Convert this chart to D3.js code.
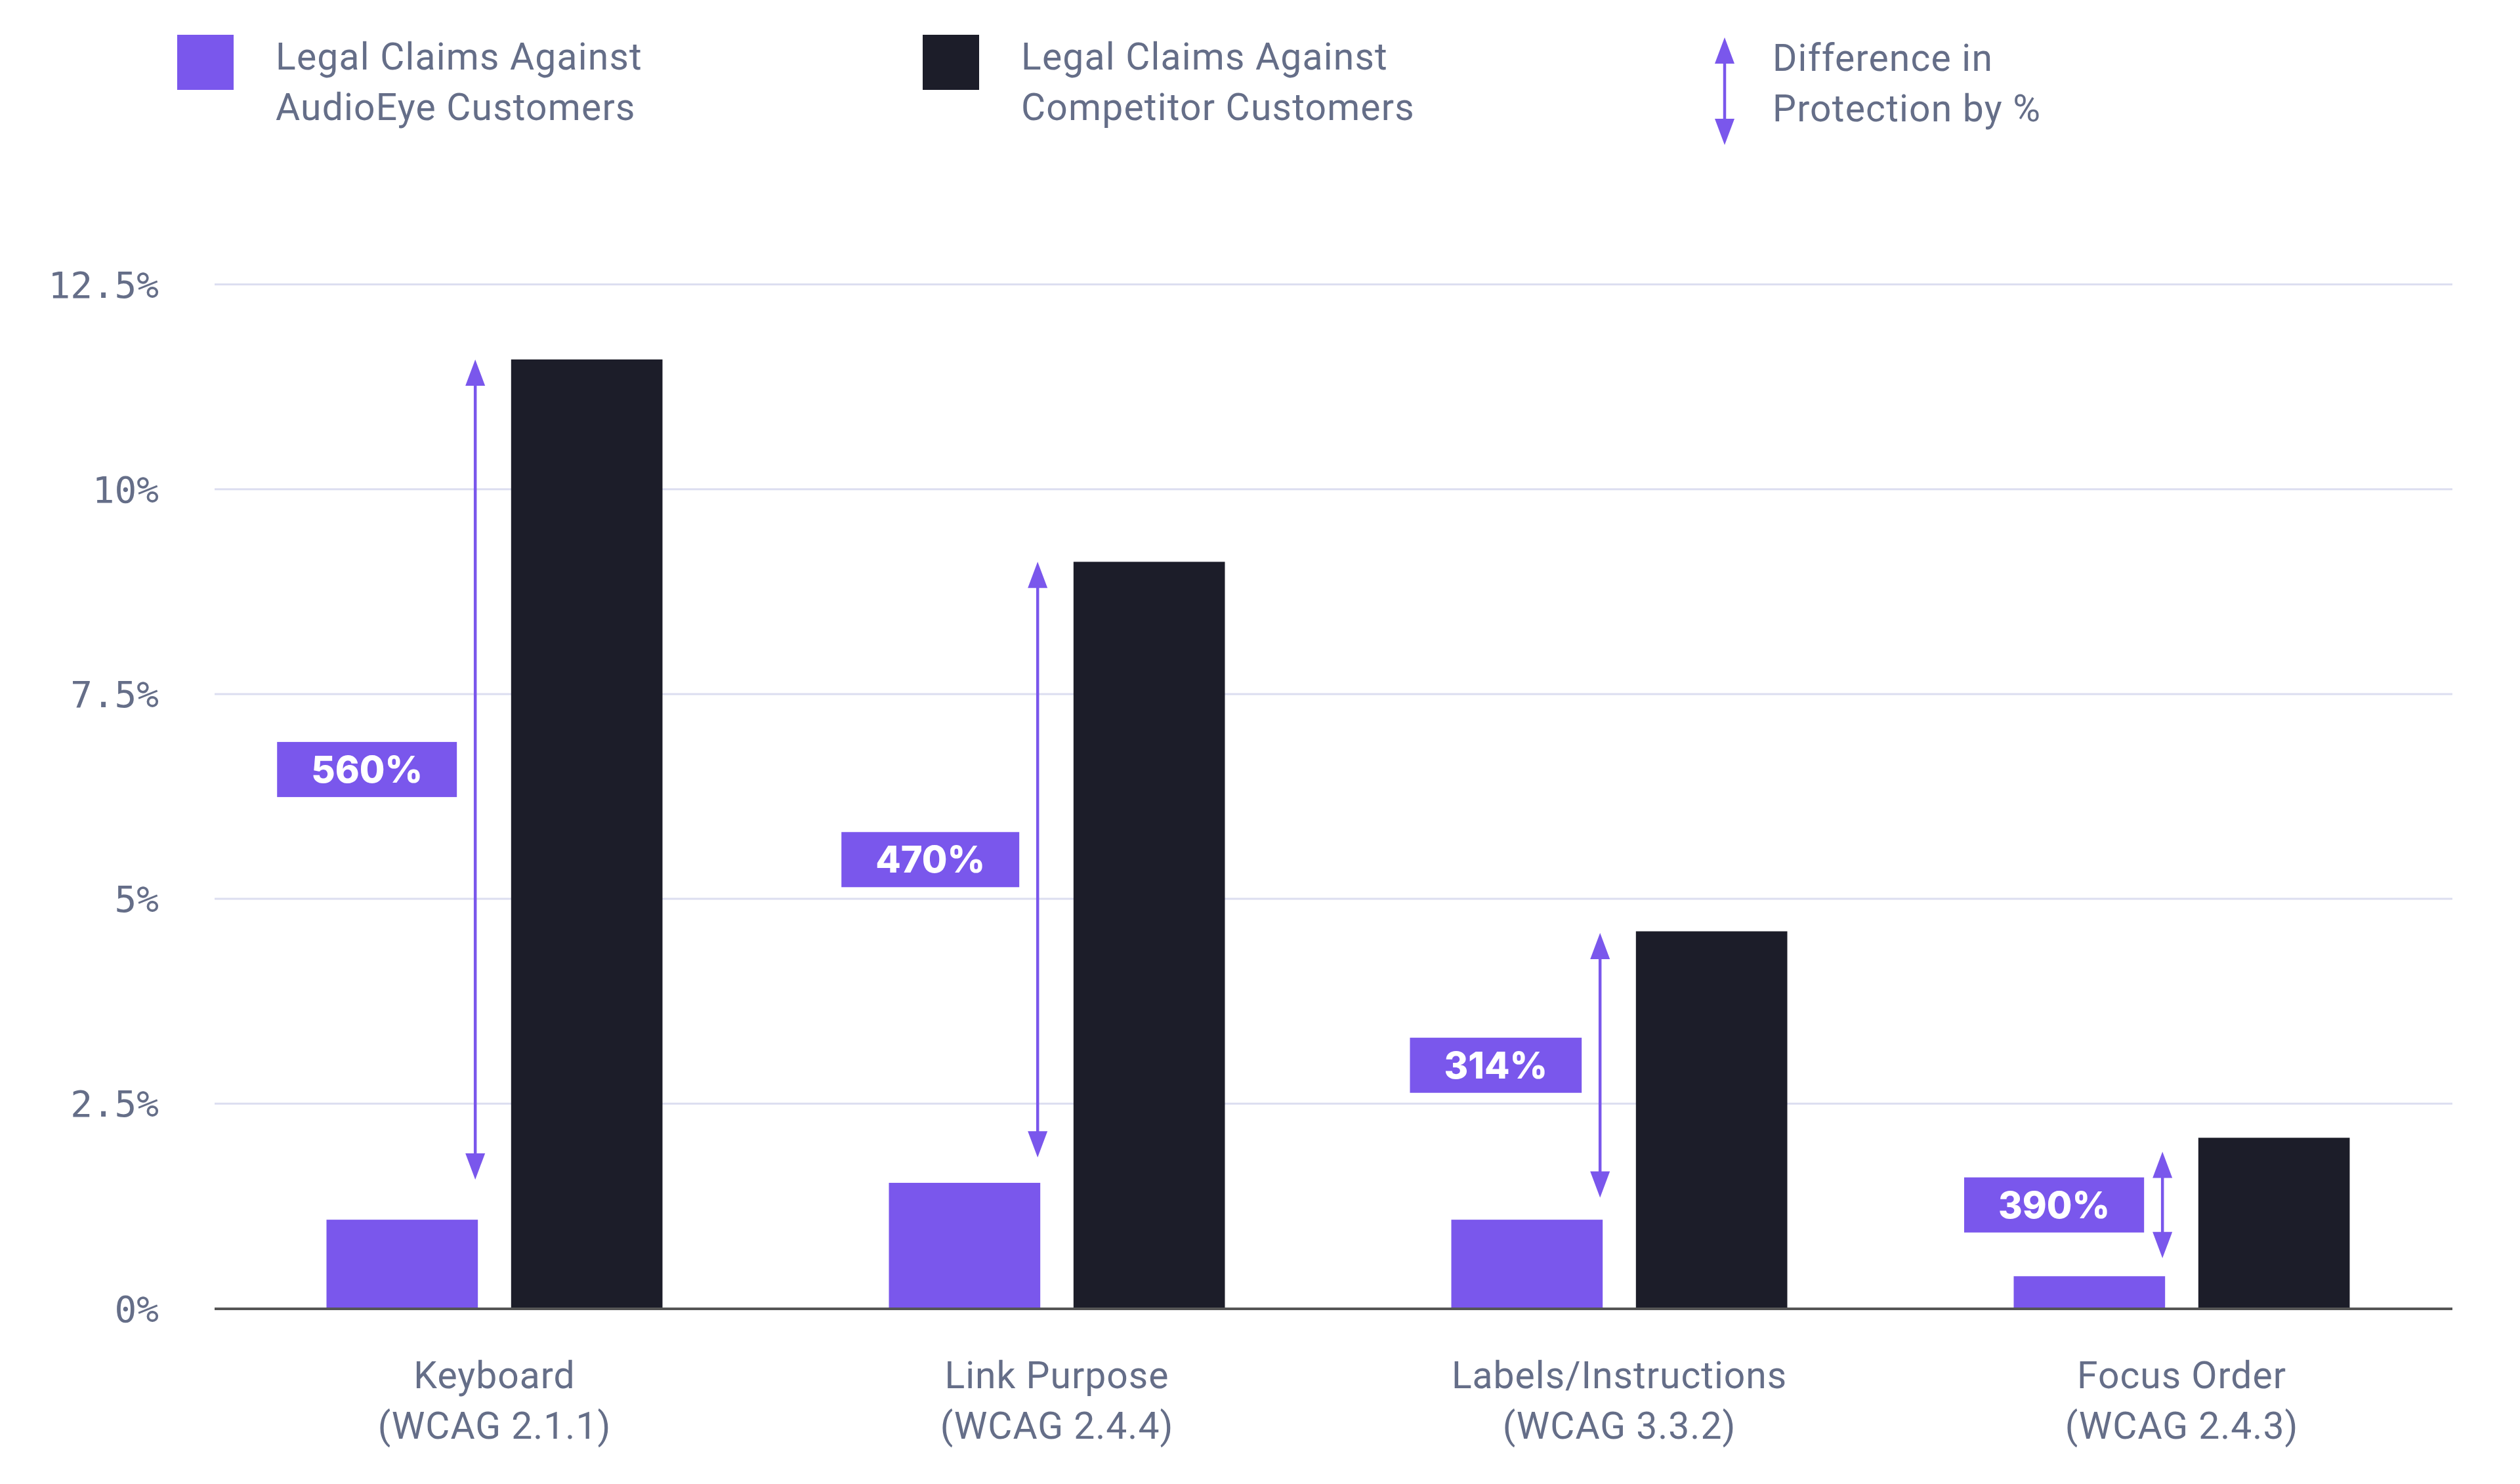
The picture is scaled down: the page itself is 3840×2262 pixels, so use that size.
<!DOCTYPE html>
<html>
<head>
<meta charset="utf-8">
<title>Legal claims chart</title>
<script src="https://cdn.jsdelivr.net/npm/d3@7"></script>
<style>
  * { margin: 0; padding: 0; }
  body { background: #fff; }
  svg { display: block; }
</style>
</head>
<body>
<div id="show"></div>
<script>
  // data (percent of claims)
  var categories = ["Keyboard", "Link Purpose", "Labels/Instructions", "Focus Order"];
  var subLabels = ["(WCAG 2.1.1)", "(WCAG 2.4.4)", "(WCAG 3.3.2)", "(WCAG 2.4.3)"];
  var audioEye = [1.08, 1.53, 1.08, 0.39];
  var competitor = [11.58, 9.11, 4.60, 2.08];
  var arrowTop = [11.58, 9.11, 4.58, 1.91];
  var arrowBottom = [1.57, 1.84, 1.35, 0.61];
  var diffLabels = ["560%", "470%", "314%", "390%"];
  var tickValues = [0, 2.5, 5, 7.5, 10, 12.5];
  var tickLabels = ["0%", "2.5%", "5%", "7.5%", "10%", "12.5%"];
  var seriesNames = ["audioEye", "competitor"];

  var W = 3840, H = 2262;
  var purple = "#7a57ec", dark = "#1c1d29", grey = "#656e88";
  var sans = "Roboto, 'Noto Sans', sans-serif";

  var svg = d3.select("#show").append("svg")
              .attr("width", W).attr("height", H);

  // plot box (window.top is reserved, so no bare "top")
  var plotL = 327, plotR = 3737, plotT = 433, plotB = 1994;

  var y = d3.scaleLinear().domain([0, 12.5]).range([plotB, plotT]);
  var x0 = d3.scaleBand().domain(categories).range([325, 3753]);
  var groupW = 512;
  var x1 = d3.scaleBand().domain(seriesNames).range([0, groupW]).paddingInner(0.18);

  // gridlines + y labels
  var yAxis = svg.append("g").attr("transform", "translate(" + plotL + ",0)")
     .call(d3.axisLeft(y).tickValues(tickValues)
            .tickFormat(function(d, i){ return tickLabels[i]; })
            .tickSize(-(plotR - plotL)).tickPadding(86));
  yAxis.select(".domain").remove();
  yAxis.selectAll(".tick line").attr("stroke", "#dcdef0").attr("stroke-width", 3);
  yAxis.selectAll(".tick text")
       .attr("fill", grey)
       .attr("font-family", "'DejaVu Sans Mono', 'Liberation Mono', monospace")
       .attr("font-size", 56)
       .attr("x", -(plotL - 242))
       .attr("dy", "0.36em");

  // bars
  var groups = svg.selectAll("g.grp").data(categories).enter().append("g")
     .attr("class", "grp")
     .attr("transform", function(d){
        return "translate(" + (x0(d) + x0.bandwidth() / 2 - groupW / 2) + ",0)";
     });

  groups.append("rect")
     .attr("x", x1("audioEye")).attr("width", x1.bandwidth())
     .attr("y", function(d, i){ return y(audioEye[i]); })
     .attr("height", function(d, i){ return y(0) - y(audioEye[i]); })
     .attr("fill", purple);

  groups.append("rect")
     .attr("x", x1("competitor")).attr("width", x1.bandwidth())
     .attr("y", function(d, i){ return y(competitor[i]); })
     .attr("height", function(d, i){ return y(0) - y(competitor[i]); })
     .attr("fill", dark);

  // difference arrows
  var headH = 40, headW = 30;
  function drawArrow(g, ax, yTop, yBot){
     g.append("line").attr("x1", ax).attr("x2", ax)
      .attr("y1", yTop + headH - 2).attr("y2", yBot - headH + 2)
      .attr("stroke", purple).attr("stroke-width", 4.5);
     g.append("path")
      .attr("d", "M" + ax + "," + yTop + "L" + (ax + headW / 2) + "," + (yTop + headH) +
                 "L" + (ax - headW / 2) + "," + (yTop + headH) + "Z")
      .attr("fill", purple);
     g.append("path")
      .attr("d", "M" + ax + "," + yBot + "L" + (ax + headW / 2) + "," + (yBot - headH) +
                 "L" + (ax - headW / 2) + "," + (yBot - headH) + "Z")
      .attr("fill", purple);
  }

  groups.each(function(d, i){
     var g = d3.select(this);
     var ax = x1("audioEye") + x1.bandwidth() - 4;
     var yt = y(arrowTop[i]), yb = y(arrowBottom[i]);
     drawArrow(g, ax, yt, yb);
     var mid = (yt + yb) / 2;
     var lab = g.append("g");
     var rect = lab.append("rect").attr("fill", purple);
     var t = lab.append("text").text(diffLabels[i])
        .attr("fill", "#fff")
        .attr("font-family", "Inter, 'Open Sans', sans-serif")
        .attr("font-weight", 800)
        .attr("font-size", 56)
        .attr("text-anchor", "middle")
        .attr("dy", "0.36em");
     var tw = t.node().getComputedTextLength();
     var rw = tw + 104, rh = 84;
     var rx = ax - 28 - rw;
     rect.attr("x", rx).attr("y", mid - rh / 2).attr("width", rw).attr("height", rh);
     t.attr("x", rx + rw / 2).attr("y", mid);
  });

  // baseline
  svg.append("line")
     .attr("x1", plotL).attr("x2", plotR)
     .attr("y1", y(0) + 1).attr("y2", y(0) + 1)
     .attr("stroke", "#555").attr("stroke-width", 4);

  // category labels
  var xAxis = svg.append("g").attr("transform", "translate(0," + y(0) + ")")
     .call(d3.axisBottom(x0).tickSize(0).tickFormat(""));
  xAxis.select(".domain").remove();
  xAxis.selectAll(".tick").each(function(d, i){
     var t = d3.select(this).append("text")
        .attr("fill", grey).attr("font-family", sans).attr("font-size", 57)
        .attr("letter-spacing", 1)
        .attr("text-anchor", "middle");
     t.append("tspan").attr("x", 0).attr("y", 122).text(d);
     t.append("tspan").attr("x", 0).attr("y", 199).text(subLabels[i]);
  });

  // legend
  var legend = svg.append("g");
  var legendItems = [
     {x: 270, text: ["Legal Claims Against", "AudioEye Customers"], color: purple},
     {x: 1406, text: ["Legal Claims Against", "Competitor Customers"], color: dark}
  ];
  legendItems.forEach(function(it){
     legend.append("rect").attr("x", it.x).attr("y", 53)
        .attr("width", 86).attr("height", 84).attr("fill", it.color);
     var t = legend.append("text").attr("fill", grey)
        .attr("font-family", sans).attr("font-size", 57).attr("letter-spacing", 1.2);
     t.append("tspan").attr("x", it.x + 150).attr("y", 106).text(it.text[0]);
     t.append("tspan").attr("x", it.x + 150).attr("y", 183).text(it.text[1]);
  });
  drawArrow(legend, 2628, 57, 221);
  var lt = legend.append("text").attr("fill", grey)
     .attr("font-family", sans).attr("font-size", 57).attr("letter-spacing", 1.2);
  lt.append("tspan").attr("x", 2701).attr("y", 108).text("Difference in");
  lt.append("tspan").attr("x", 2701).attr("y", 185).text("Protection by %");
</script>
</body>
</html>
